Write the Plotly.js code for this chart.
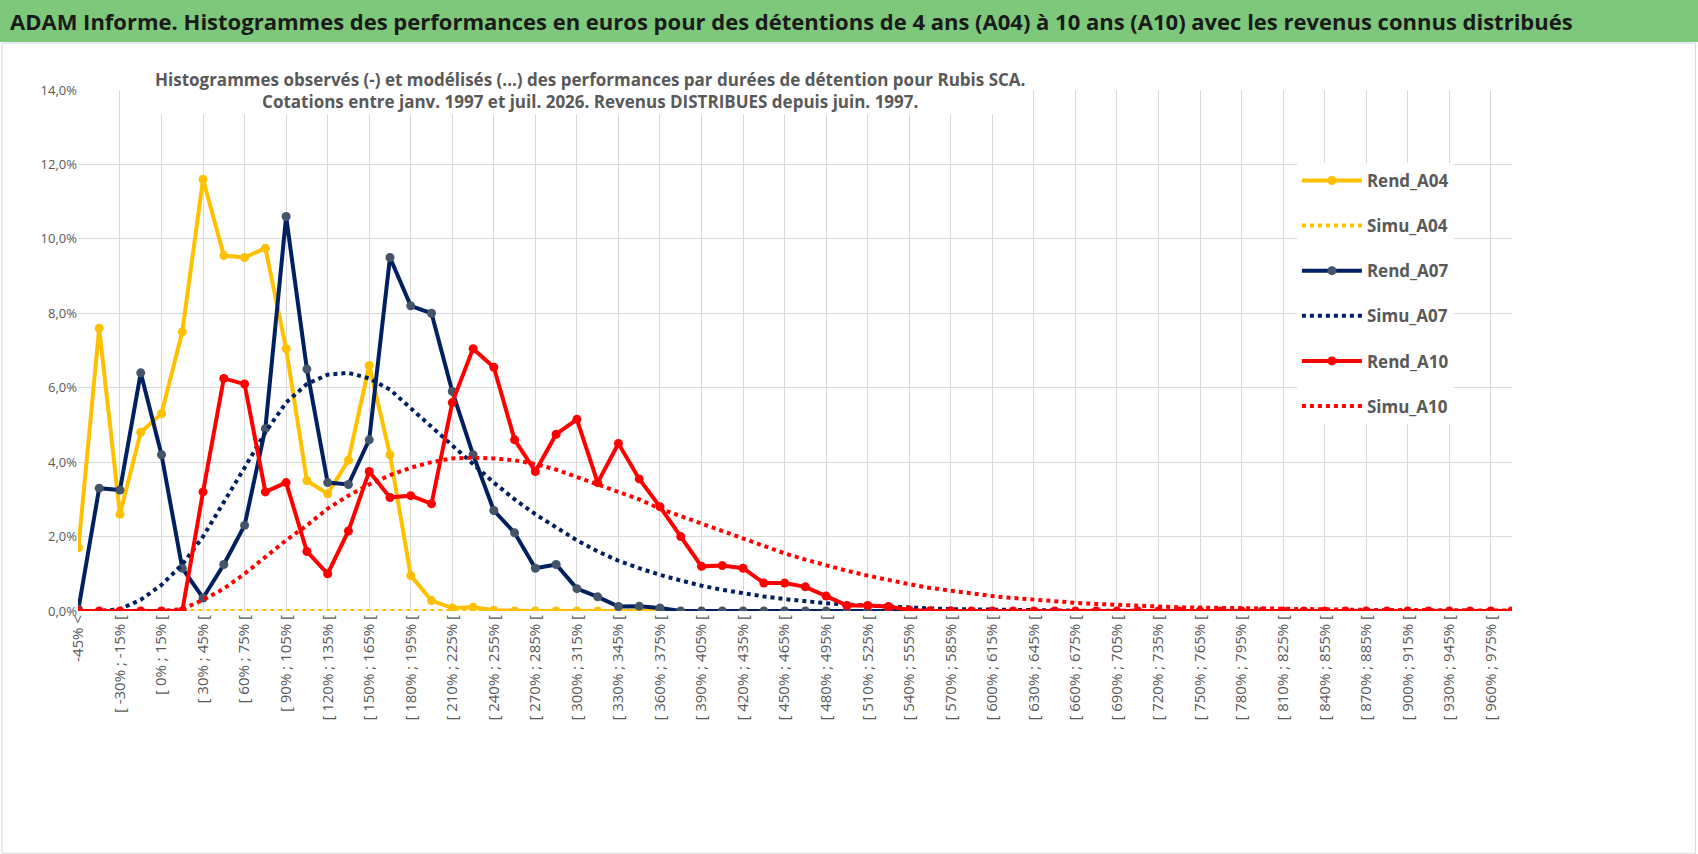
<!DOCTYPE html>
<html><head><meta charset="utf-8">
<script src="https://cdn.plot.ly/plotly-3.0.1.min.js"></script>
<style>
body{margin:0;background:#fff;}
#bar{position:absolute;left:0;top:0;width:1698px;height:42px;background:#7dc87a;font-family:"Open Sans",Calibri,sans-serif;font-weight:bold;font-size:22px;color:#1a1a1a;line-height:42px;padding-left:10px;box-sizing:border-box;}
#chart{position:absolute;left:0;top:0;width:1698px;height:854px;}
</style></head><body>
<div id="chart"></div>
<div id="bar">ADAM Informe. Histogrammes des performances en euros pour des détentions de 4 ans (A04) à 10 ans (A10) avec les revenus connus distribués</div>
<script>
const categories = ["-45% <"];
for (let s = -45; s <= 975; s += 15) categories.push("[ " + s + "% ; " + (s + 15) + "% [");

const rendA04 = [1.7,7.6,2.6,4.8,5.3,7.5,11.6,9.55,9.5,9.75,7.05,3.5,3.15,4.05,6.6,4.2,0.95,0.28,0.08,0.1,0.02,0,0,0,0,0,0,0,0];
const simuA04 = [0,0,0,0,0,0,0,0,0,0,0,0,0,0,0,0,0,0,0,0,0,0,0,0,0,0,0,0,0];
const rendA07 = [0.05,3.3,3.25,6.4,4.2,1.15,0.35,1.25,2.3,4.9,10.6,6.5,3.45,3.4,4.6,9.5,8.2,8.0,5.9,4.2,2.7,2.1,1.15,1.25,0.6,0.38,0.12,0.13,0.08,0,0,0,0,0,0,0,0,0,0,0,0,0,0];
const simuA07 = [0,0,0.05,0.3,0.7,1.25,2.0,2.9,3.85,4.8,5.6,6.1,6.35,6.4,6.25,5.95,5.45,4.95,4.45,3.95,3.45,3.0,2.6,2.25,1.9,1.6,1.35,1.15,0.97,0.82,0.68,0.57,0.47,0.39,0.32,0.26,0.21,0.17,0.14,0.11,0.09,0.07,0.05,0.04,0.03,0.02,0.02,0.01,0.01,0.01,0,0,0,0,0,0,0,0,0,0,0,0,0,0,0,0,0,0,0,0];
const rendA10 = [0,0,0,0,0,0,3.2,6.25,6.1,3.2,3.45,1.6,1.0,2.15,3.75,3.05,3.1,2.88,5.6,7.05,6.55,4.6,3.75,4.75,5.15,3.45,4.5,3.55,2.8,2.0,1.2,1.22,1.15,0.75,0.75,0.65,0.4,0.15,0.15,0.12,0.03,0,0,0,0,0,0,0,0,0,0,0,0,0,0,0,0,0,0,0,0,0,0,0,0,0,0,0,0,0];
const simuA10 = [0,0,0,0,0,0.05,0.3,0.6,1.0,1.45,1.9,2.3,2.75,3.1,3.4,3.65,3.85,4.0,4.1,4.12,4.1,4.05,3.95,3.8,3.6,3.4,3.2,3.0,2.75,2.55,2.35,2.15,1.95,1.75,1.55,1.38,1.22,1.08,0.95,0.83,0.72,0.62,0.54,0.47,0.4,0.35,0.3,0.26,0.22,0.19,0.16,0.14,0.12,0.1,0.09,0.08,0.07,0.06,0.05,0.05,0.04,0.04,0.03,0.03,0.03,0.02,0.02,0.02,0.02,0.01];
const yTicks = [0,2,4,6,8,10,12,14];
const yTickText = ["0,0%","2,0%","4,0%","6,0%","8,0%","10,0%","12,0%","14,0%"];

function xs(arr){return categories.slice(0, arr.length);}
const traces = [
 {name:"Rend_A04", legendgroup:"a", x:xs(rendA04), y:rendA04, mode:"lines+markers", line:{color:"#ffc000",width:4}, marker:{color:"#ffc000",size:9}},
 {name:"Simu_A04", legendgroup:"b", x:xs(simuA04), y:simuA04, mode:"lines", line:{color:"#ffc000",width:4,dash:"dot"}},
 {name:"Rend_A07", legendgroup:"c", x:xs(rendA07), y:rendA07, mode:"lines+markers", line:{color:"#002060",width:4}, marker:{color:"#44546a",size:9}},
 {name:"Simu_A07", legendgroup:"d", x:xs(simuA07), y:simuA07, mode:"lines", line:{color:"#002060",width:4,dash:"dot"}},
 {name:"Rend_A10", legendgroup:"e", x:xs(rendA10), y:rendA10, mode:"lines+markers", line:{color:"#ff0000",width:4}, marker:{color:"#ff0000",size:9}},
 {name:"Simu_A10", legendgroup:"f", x:xs(simuA10), y:simuA10, mode:"lines", line:{color:"#ff0000",width:4,dash:"dot"}}
];
const tv = categories.filter((c,i)=>i%2===0 && i<=68);
const layout = {
 width:1698, height:854, showlegend:true,
 margin:{l:78,r:186,t:90,b:243},
 paper_bgcolor:"#fff", plot_bgcolor:"#fff",
 font:{family:"Open Sans, sans-serif", color:"#595959"},
 annotations:[{xref:"paper",yref:"paper",x:0.357,y:1.0,xanchor:"center",yanchor:"middle",showarrow:false,
   text:"<b>Histogrammes observés (-) et modélisés (...) des performances par durées de détention pour Rubis SCA.<br>Cotations entre janv. 1997 et juil. 2026. Revenus DISTRIBUES depuis juin. 1997.</b>",
   font:{size:17,color:"#595959"}, bgcolor:"#ffffff"}],
 xaxis:{type:"category", categoryarray:categories, categoryorder:"array", range:[-0.02,69.02],
   tickmode:"array", tickvals:tv, ticktext:tv, tickangle:-90, tickfont:{size:15,color:"#595959"},
   showgrid:true, gridcolor:"#d9d9d9", gridwidth:1, zeroline:false, showline:false, ticks:""},
 yaxis:{range:[0,14], tickvals:yTicks, ticktext:yTickText, tickfont:{size:13,color:"#595959"},
   showgrid:true, gridcolor:"#d9d9d9", zeroline:false, ticks:""},
 legend:{x:0.85,xanchor:"left",y:0.86,yanchor:"top",font:{size:17,color:"#595959",family:"Open Sans, sans-serif",weight:"bold"},
   bgcolor:"rgba(255,255,255,0.9)",tracegroupgap:20,itemwidth:60,valign:"middle"},
 shapes:[{type:"rect",xref:"paper",yref:"paper",x0:-0.053,x1:1.128,y0:-0.465,y1:1.09,line:{color:"#d9d9d9",width:1}}]
};
Plotly.newPlot("chart", traces, layout, {displayModeBar:false, staticPlot:true});
</script></body></html>
